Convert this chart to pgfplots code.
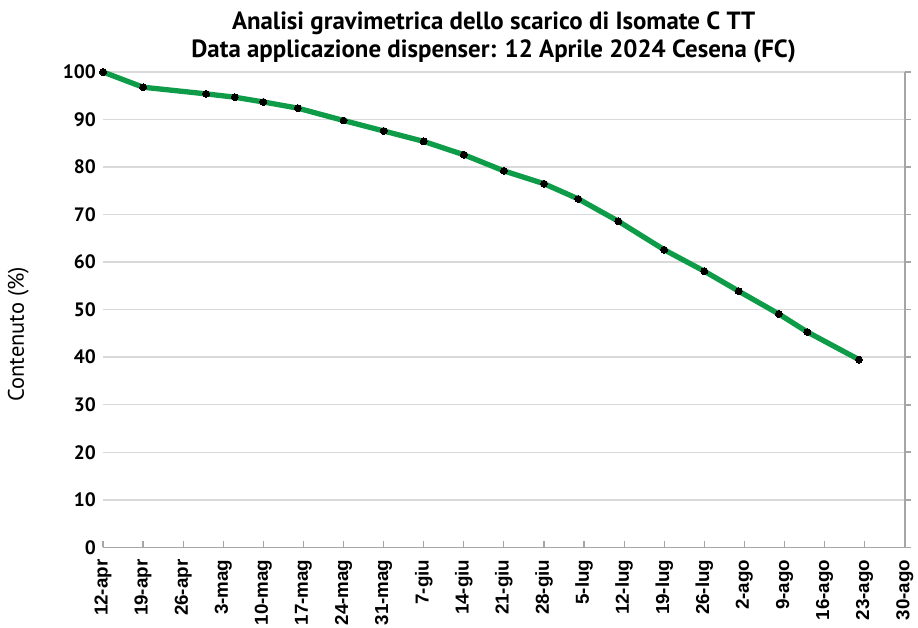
\documentclass[border=0pt]{standalone}
\usepackage{fontspec}
\setmainfont{PT Sans}
\newfontfamily\arialfont{Liberation Sans}
\usepackage{pgfplots}
\pgfplotsset{compat=1.18}
\definecolor{linegreen}{HTML}{0E9C48}
\definecolor{gridgray}{HTML}{D9D9D9}
\definecolor{axisgray}{HTML}{A6A6A6}

\pgfplotsset{common/.style={
  scale only axis,
  width=393pt, height=233pt,
  xmin=0, xmax=140, ymin=0, ymax=100,
}}

\begin{document}
\begin{tikzpicture}
\begin{axis}[
  common,
  axis x line*=bottom,
  axis y line*=left,
  y axis line style={draw=none},
  ytick={0,10,...,100},
  xtick={0,7,...,140},
  xticklabels={12-apr,19-apr,26-apr,3-mag,10-mag,17-mag,24-mag,31-mag,7-giu,14-giu,21-giu,28-giu,5-lug,12-lug,19-lug,26-lug,2-ago,9-ago,16-ago,23-ago,30-ago},
  x tick label style={font=\arialfont\bfseries\fontsize{9.2}{10}\selectfont, rotate=90, anchor=east},
  xticklabel shift=2.5pt,
  y tick label style={font=\bfseries\fontsize{9.5}{10}\selectfont},
  /pgf/number format/assume math mode=true,
  ymajorgrids, grid style={gridgray, line width=0.7pt},
  x axis line style={axisgray, line width=0.8pt},
  xtick style={axisgray, line width=0.6pt},
  ytick style={draw=none},
  major tick length=3pt,
  xtick align=inside,
  ylabel={Contenuto (\%)},
  ylabel style={font=\fontsize{11}{11}\selectfont, at={(rel axis cs:0,0.5)}, anchor=center, yshift=41.5pt, xshift=-12pt},
  title={Analisi gravimetrica dello scarico di Isomate C TT\\Data applicazione dispenser: 12 Aprile 2024 Cesena (FC)},
  title style={font=\bfseries\fontsize{12.2}{13.5}\selectfont, align=center, yshift=-5pt, xshift=-5pt},
  clip=false,
]
\coordinate (sw) at (rel axis cs:0,0);
\coordinate (ne) at (rel axis cs:1,1);
\addplot[color=linegreen, line width=2.6pt, line join=round,
  mark=*, mark size=1.7pt, mark options={fill=black, draw=black, line width=0pt}]
  coordinates {
  (0,100) (7,96.8) (18,95.4) (23,94.7) (28,93.7) (34,92.4) (42,89.8)
  (49,87.6) (56,85.4) (63,82.6) (70,79.2) (77,76.5) (83,73.3) (90,68.6)
  (98,62.6) (105,58.1) (111,53.9) (118,49.1) (123,45.3) (132,39.5)};
\end{axis}
\begin{axis}[
  common,
  axis x line=none,
  axis y line*=right,
  ytick={0,10,...,100},
  yticklabels={},
  y axis line style={axisgray, line width=0.8pt},
  ytick style={axisgray, line width=0.8pt},
  major tick length=3pt,
  ytick align=outside,
]
\end{axis}
\pgfresetboundingbox
\path[use as bounding box] ([shift={(-50.5pt,-39.5pt)}]sw) rectangle ([shift={(6.5pt,35.3pt)}]ne);
\end{tikzpicture}
\end{document}
